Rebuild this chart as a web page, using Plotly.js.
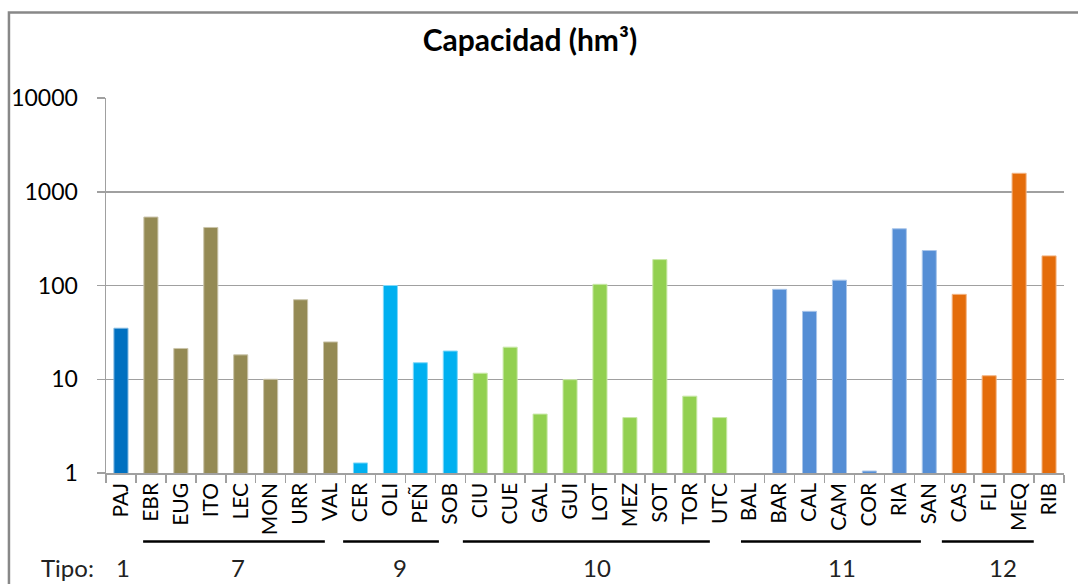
<!DOCTYPE html>
<html>
<head>
<meta charset="utf-8">
<script src="https://cdn.plot.ly/plotly-3.0.1.min.js"></script>
<style>
  html, body { margin: 0; padding: 0; background: #ffffff; }
  #chart { width: 1078px; height: 584px; }
</style>
</head>
<body>
<div id="chart"></div>
<script>
// Embalses (categorías) y su capacidad en hm³
const categories = ["PAJ","EBR","EUG","ITO","LEC","MON","URR","VAL",
                    "CER","OLI","PEÑ","SOB",
                    "CIU","CUE","GAL","GUI","LOT","MEZ","SOT","TOR","UTC",
                    "BAL","BAR","CAL","CAM","COR","RIA","SAN",
                    "CAS","FLI","MEQ","RIB"];
const capacidad = [35, 537, 21.3, 416, 18.2, 10, 70.5, 25,
                   1.28, 100, 15, 20,
                   11.6, 22, 4.25, 9.9, 103, 3.9, 189, 6.6, 3.9,
                   null, 91, 53, 114, 1.05, 403, 236,
                   80.5, 10.9, 1574, 207];
const tipo = [1, 7,7,7,7,7,7,7, 9,9,9,9, 10,10,10,10,10,10,10,10,10,
              11,11,11,11,11,11,11, 12,12,12,12];
const tipoNames = [1, 7, 9, 10, 11, 12];
const tipoColors = ["#0070C0", "#948A54", "#00B0F0", "#92D050", "#558ED5", "#E46C0A"];
const tipoEdge = ["#7fb7e0", "#cac4aa", "#80d8f8", "#c9e8a8", "#aac6ea", "#f2b585"];
const yTickVals = [1, 10, 100, 1000, 10000];
const yTickText = ["1", "10", "100", "1000", "10000"];
// group underline spans (in category units) and label positions
const groupLineStart = [null, 0.74, 7.42, 11.42, 20.71, 27.42];
const groupLineEnd   = [null, 6.81, 10.62, 19.67, 26.72, 30.49];
const groupLabelPos  = [0.07, 3.9, 9.32, 15.9, 24.08, 29.46];

const barColors = tipo.map(t => tipoColors[tipoNames.indexOf(t)]);
const barEdges = tipo.map(t => tipoEdge[tipoNames.indexOf(t)]);

const FONT = "Lato, 'DejaVu Sans', sans-serif";

const trace = {
  type: "bar",
  x: categories,
  y: capacidad,
  marker: { color: barColors, line: { color: barEdges, width: 1 } },
  hoverinfo: "x+y"
};

const shapes = [];
const annotations = [];

// outer frame
shapes.push({
  type: "rect", xref: "paper", yref: "paper",
  x0: -0.1013, x1: 1.03, y0: -0.34, y1: 1.228,
  line: { color: "#888888", width: 2.5 }, fillcolor: "rgba(0,0,0,0)", layer: "above"
});

for (let g = 0; g < tipoNames.length; g++) {
  if (groupLineStart[g] !== null) {
    shapes.push({
      type: "line", xref: "x", yref: "paper",
      x0: groupLineStart[g], x1: groupLineEnd[g], y0: -0.1825, y1: -0.1825,
      line: { color: "#000000", width: 2.5 }
    });
  }
  annotations.push({
    xref: "x", yref: "paper", x: groupLabelPos[g], y: -0.2527,
    text: String(tipoNames[g]), showarrow: false,
    xanchor: "center", yanchor: "middle",
    font: { family: FONT, size: 24, color: "#222222" }
  });
}
annotations.push({
  xref: "paper", yref: "paper", x: -0.0407, y: -0.2527,
  text: "Tipo:", showarrow: false, xanchor: "center", yanchor: "middle",
  font: { family: FONT, size: 24, color: "#222222" }
});

const layout = {
  width: 1078, height: 584,
  margin: { l: 106, r: 14, t: 98, b: 111 },
  paper_bgcolor: "#ffffff", plot_bgcolor: "#ffffff",
  showlegend: false,
  bargap: 0.53,
  title: {
    text: "<b>Capacidad (hm³)</b>",
    x: 530 / 1078, xref: "container", xanchor: "center",
    y: 1 - 40 / 584, yref: "container", yanchor: "middle",
    font: { family: FONT, size: 30, color: "#000000" }
  },
  xaxis: {
    type: "category",
    range: [-0.5, categories.length - 0.5],
    tickson: "boundaries",
    ticks: "outside", ticklen: 8, tickcolor: "#a0a0a0", tickwidth: 1.5,
    showline: true, linecolor: "#a0a0a0", linewidth: 1.5,
    showgrid: false,
    tickangle: -90,
    tickfont: { family: FONT, size: 21, color: "#000000" }
  },
  yaxis: {
    type: "log",
    range: [0, 4],
    tickvals: yTickVals, ticktext: yTickText,
    ticks: "outside", ticklen: 8, tickcolor: "#a0a0a0", tickwidth: 1.5,
    ticklabelstandoff: 14,
    showline: true, linecolor: "#a0a0a0", linewidth: 1.5,
    showgrid: true, gridcolor: "#a0a0a0", gridwidth: 1.5,
    zeroline: false,
    tickfont: { family: FONT, size: 23, color: "#000000" }
  },
  shapes: shapes,
  annotations: annotations
};

Plotly.newPlot("chart", [trace], layout, { displayModeBar: false, staticPlot: true });
</script>
</body>
</html>
